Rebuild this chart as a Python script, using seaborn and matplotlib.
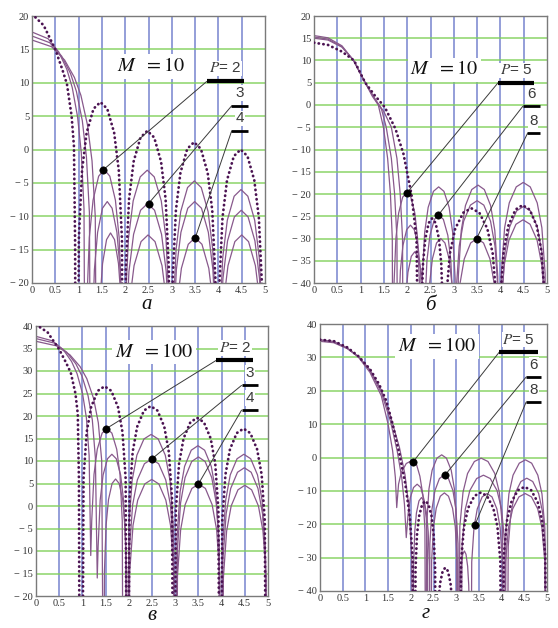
import matplotlib
matplotlib.use("Agg")
import matplotlib.pyplot as plt
import seaborn as sns

# ---------------- panel а : M = 10, P = 2, 3, 4 ----------------
a_x_dot = [0, 0.25, 0.5, 0.65, 0.75, 0.85, 0.9, 0.925, 0.945,
           0.975, 1.005, 1.074, 1.172, 1.32, 1.468, 1.615, 1.763, 1.862, 1.930, 1.96,
           1.985, 2.014, 2.083, 2.181, 2.328, 2.475, 2.622, 2.769, 2.867, 2.936, 2.965,
           2.99, 3.019, 3.088, 3.185, 3.331, 3.478, 3.624, 3.77, 3.868, 3.936, 3.965,
           3.99, 4.019, 4.088, 4.185, 4.331, 4.478, 4.624, 4.77, 4.868, 4.936, 4.965]
a_y_dot = [20.3, 18.6, 15.0, 12.0, 9.8, 5.0, 0.5, -14, -60,
           -60, -13.4, -3.1, 2.5, 6.1, 7.1, 6.1, 2.5, -3.1, -13.4, -60,
           -60, -17.7, -7.4, -1.8, 1.8, 2.8, 1.8, -1.8, -7.4, -17.7, -60,
           -60, -19.4, -9.1, -3.5, 0.1, 1.1, 0.1, -3.5, -9.1, -19.4, -60,
           -60, -20.5, -10.2, -4.6, -1.0, 0.0, -1.0, -4.6, -10.2, -20.5, -60]
a_x_p2 = [0, 0.345, 0.575, 0.748, 0.863, 0.978, 1.058, 1.116, 1.15,
          1.174, 1.23, 1.31, 1.43, 1.55, 1.67, 1.79, 1.87, 1.926, 1.95,
          1.97, 2.0, 2.07, 2.171, 2.322, 2.473, 2.623, 2.774, 2.875, 2.945, 2.975,
          2.995, 3.024, 3.093, 3.191, 3.338, 3.485, 3.632, 3.779, 3.877, 3.946, 3.975,
          3.995, 4.024, 4.093, 4.191, 4.338, 4.485, 4.632, 4.779, 4.877, 4.946, 4.975]
a_y_p2 = [17.6, 16.6, 14.6, 12.0, 9.3, 4.9, -0.5, -8.9, -60,
          -23.5, -13.2, -7.6, -4.0, -3.0, -4.0, -7.6, -13.2, -23.5, -60,
          -60, -23.6, -13.3, -7.7, -4.1, -3.1, -4.1, -7.7, -13.3, -23.6, -60,
          -60, -25.2, -14.9, -9.3, -5.7, -4.7, -5.7, -9.3, -14.9, -25.2, -60,
          -60, -26.5, -16.2, -10.6, -7.0, -6.0, -7.0, -10.6, -16.2, -26.5, -60]
a_x_p3 = [0, 0.381, 0.635, 0.826, 0.953, 1.080, 1.168, 1.232, 1.27,
          1.291, 1.339, 1.408, 1.512, 1.615, 1.719, 1.822, 1.891, 1.939, 1.96,
          1.98, 2.01, 2.08, 2.18, 2.33, 2.48, 2.63, 2.78, 2.88, 2.95, 2.98,
          3.0, 3.029, 3.098, 3.196, 3.343, 3.49, 3.637, 3.784, 3.882, 3.951, 3.98,
          4.0, 4.029, 4.098, 4.196, 4.343, 4.49, 4.637, 4.784, 4.882, 4.951, 4.98]
a_y_p3 = [17.0, 16.0, 14.0, 11.4, 8.7, 4.3, -1.1, -9.5, -60,
          -28.3, -18.0, -12.4, -8.8, -7.8, -8.8, -12.4, -18.0, -28.3, -60,
          -60, -28.6, -18.3, -12.7, -9.1, -8.1, -9.1, -12.7, -18.3, -28.6, -60,
          -60, -28.3, -18.0, -12.4, -8.8, -7.8, -8.8, -12.4, -18.0, -28.3, -60,
          -60, -29.6, -19.3, -13.7, -10.1, -9.1, -10.1, -13.7, -19.3, -29.6, -60]
a_x_p4 = [0, 0.42, 0.7, 0.91, 1.05, 1.19, 1.288, 1.358, 1.4,
          1.417, 1.457, 1.514, 1.6, 1.685, 1.771, 1.856, 1.913, 1.953, 1.97,
          1.99, 2.02, 2.09, 2.19, 2.34, 2.49, 2.64, 2.79, 2.89, 2.96, 2.99,
          3.01, 3.039, 3.108, 3.206, 3.353, 3.5, 3.647, 3.794, 3.892, 3.961, 3.99,
          4.01, 4.039, 4.108, 4.206, 4.353, 4.5, 4.647, 4.794, 4.892, 4.961, 4.99]
a_y_p4 = [16.4, 15.4, 13.4, 10.8, 8.1, 3.7, -1.7, -10.1, -60,
          -33.0, -22.7, -17.1, -13.5, -12.5, -13.5, -17.1, -22.7, -33.0, -60,
          -60, -33.3, -23.0, -17.4, -13.8, -12.8, -13.8, -17.4, -23.0, -33.3, -60,
          -60, -33.7, -23.4, -17.8, -14.2, -13.2, -14.2, -17.8, -23.4, -33.7, -60,
          -60, -33.3, -23.0, -17.4, -13.8, -12.8, -13.8, -17.4, -23.0, -33.3, -60]
a_mark_x = [1.52, 2.5, 3.5]
a_mark_y = [-3.1, -8.1, -13.3]
a_labels = ["$P$= 2", "3", "4"]

# ---------------- panel б : M = 10, P = 5, 6, 8 ----------------
b_x_dot = [0, 0.3, 0.6, 0.86, 1.1, 1.3, 1.52, 1.75, 1.92, 2.09, 2.2, 2.27,
           2.29, 2.305, 2.339, 2.388, 2.462, 2.535, 2.609, 2.682, 2.731, 2.765, 2.78,
           2.8, 2.835, 2.915, 3.03, 3.203, 3.375, 3.548, 3.72, 3.835, 3.916, 3.95,
           3.97, 4.0, 4.071, 4.172, 4.324, 4.475, 4.627, 4.778, 4.879, 4.95, 4.98]
b_y_dot = [14.0, 13.5, 12.0, 10.0, 5.0, 2.2, -0.5, -5.4, -11, -20, -30, -90,
           -90, -46, -35.7, -30.1, -26.5, -25.5, -26.5, -30.1, -35.7, -46, -90,
           -90, -43.7, -33.4, -27.8, -24.2, -23.2, -24.2, -27.8, -33.4, -43.7, -90,
           -90, -43, -32.7, -27.1, -23.5, -22.5, -23.5, -27.1, -32.7, -43, -90]
b_x_p5 = [0, 0.3, 0.6, 0.85, 1.05, 1.25, 1.38, 1.49, 1.58, 1.64, 1.68, 1.7,
          1.717, 1.758, 1.816, 1.903, 1.99, 2.077, 2.164, 2.222, 2.263, 2.28,
          2.3, 2.323, 2.375, 2.45, 2.563, 2.675, 2.788, 2.9, 2.975, 3.028, 3.05,
          3.07, 3.097, 3.16, 3.25, 3.385, 3.52, 3.655, 3.79, 3.88, 3.943, 3.97,
          3.99, 4.02, 4.09, 4.19, 4.34, 4.49, 4.64, 4.79, 4.89, 4.96, 4.99]
b_y_p5 = [15.6, 15.1, 13.3, 10.0, 6.0, 2.0, 0.0, -5.0, -12, -20, -30, -90,
          -40.2, -29.9, -24.3, -20.7, -19.7, -20.7, -24.3, -29.9, -40.2, -90,
          -90, -38.9, -28.6, -23.0, -19.4, -18.4, -19.4, -23.0, -28.6, -38.9, -90,
          -90, -38.5, -28.2, -22.6, -19.0, -18.0, -19.0, -22.6, -28.2, -38.5, -90,
          -90, -37.9, -27.6, -22.0, -18.4, -17.4, -18.4, -22.0, -27.6, -37.9, -90]
b_x_p6 = [0, 0.3, 0.6, 0.85, 1.07, 1.3, 1.45, 1.55, 1.66, 1.73, 1.78, 1.8,
          1.816, 1.854, 1.908, 1.989, 2.07, 2.151, 2.232, 2.286, 2.324, 2.34,
          2.36, 2.379, 2.424, 2.488, 2.584, 2.68, 2.776, 2.872, 2.936, 2.981, 3.0,
          3.02, 3.049, 3.116, 3.212, 3.356, 3.5, 3.644, 3.788, 3.884, 3.951, 3.98,
          4.0, 4.03, 4.099, 4.198, 4.347, 4.495, 4.644, 4.792, 4.891, 4.96, 4.99]
b_y_p6 = [15.3, 14.8, 13.1, 10.0, 5.5, 1.5, -1.0, -5.0, -12, -20, -30, -90,
          -47.5, -37.2, -31.6, -28.0, -27.0, -28.0, -31.6, -37.2, -47.5, -90,
          -90, -45.2, -34.9, -29.3, -25.7, -24.7, -25.7, -29.3, -34.9, -45.2, -90,
          -90, -42.0, -31.7, -26.1, -22.5, -21.5, -22.5, -26.1, -31.7, -42.0, -90,
          -90, -43.3, -33.0, -27.4, -23.8, -22.8, -23.8, -27.4, -33.0, -43.3, -90]
b_x_p8 = [0, 0.3, 0.6, 0.85, 1.1, 1.33, 1.5, 1.66, 1.78, 1.85, 1.9, 1.92,
          1.934, 1.968, 2.016, 2.088, 2.16, 2.232, 2.304, 2.352, 2.386, 2.4,
          2.42, 2.438, 2.48, 2.54, 2.63, 2.72, 2.81, 2.9, 2.96, 3.002, 3.02,
          3.04, 3.068, 3.132, 3.224, 3.362, 3.5, 3.638, 3.776, 3.868, 3.932, 3.96,
          3.98, 4.01, 4.081, 4.182, 4.334, 4.485, 4.637, 4.788, 4.889, 4.96, 4.99]
b_y_p8 = [15.0, 14.6, 13.0, 10.0, 5.0, 1.0, -1.5, -5.0, -12, -20, -30, -90,
          -53.5, -43.2, -37.6, -34.0, -33.0, -34.0, -37.6, -43.2, -53.5, -90,
          -90, -50.5, -40.2, -34.6, -31.0, -30.0, -31.0, -34.6, -40.2, -50.5, -90,
          -90, -50.5, -40.2, -34.6, -31.0, -30.0, -31.0, -34.6, -40.2, -50.5, -90,
          -90, -46.3, -36.0, -30.4, -26.8, -25.8, -26.8, -30.4, -36.0, -46.3, -90]
b_mark_x = [1.99, 2.67, 3.49]
b_mark_y = [-19.8, -24.7, -30.0]
b_labels = ["$P$= 5", "6", "8"]

# ---------------- panel в : M = 100, P = 2, 3, 4 ----------------
c_x_dot = [0, 0.25, 0.5, 0.65, 0.75, 0.85, 0.9, 0.925, 0.945,
           0.995, 1.024, 1.092, 1.188, 1.333, 1.478, 1.622, 1.767, 1.864, 1.932, 1.96,
           1.985, 2.014, 2.083, 2.18, 2.326, 2.473, 2.619, 2.765, 2.863, 2.931, 2.96,
           2.985, 3.014, 3.083, 3.18, 3.326, 3.473, 3.619, 3.765, 3.863, 3.931, 3.96,
           3.985, 4.014, 4.083, 4.18, 4.326, 4.473, 4.619, 4.765, 4.863, 4.931, 4.96]
c_y_dot = [40.3, 38.6, 34.8, 31.8, 29.6, 25.0, 20.5, 6.0, -60,
           -60, 6.1, 16.4, 22.0, 25.6, 26.6, 25.6, 22.0, 16.4, 6.1, -60,
           -60, 1.7, 12.0, 17.6, 21.2, 22.2, 21.2, 17.6, 12.0, 1.7, -60,
           -60, -0.9, 9.4, 15.0, 18.6, 19.6, 18.6, 15.0, 9.4, -0.9, -60,
           -60, -3.3, 7.0, 12.6, 16.2, 17.2, 16.2, 12.6, 7.0, -3.3, -60]
c_x_p2 = [0, 0.354, 0.59, 0.767, 0.885, 1.003, 1.086, 1.145, 1.18,
          1.201, 1.25, 1.32, 1.425, 1.53, 1.635, 1.74, 1.81, 1.859, 1.88,
          1.97, 2.001, 2.072, 2.174, 2.327, 2.48, 2.633, 2.786, 2.888, 2.959, 2.99,
          3.01, 3.039, 3.106, 3.202, 3.346, 3.49, 3.634, 3.778, 3.874, 3.941, 3.97,
          3.99, 4.019, 4.088, 4.186, 4.333, 4.48, 4.627, 4.774, 4.872, 4.941, 4.97]
c_y_p2 = [37.7, 36.7, 34.7, 32.1, 29.4, 25.0, 19.6, 11.2, -11,
          -3.3, 7.0, 12.6, 16.2, 17.2, 16.2, 12.6, 7.0, -3.3, -60,
          -60, -4.6, 5.7, 11.3, 14.9, 15.9, 14.9, 11.3, 5.7, -4.6, -60,
          -60, -7.1, 3.2, 8.8, 12.4, 13.4, 12.4, 8.8, 3.2, -7.1, -60,
          -60, -9.0, 1.3, 6.9, 10.5, 11.5, 10.5, 6.9, 1.3, -9.0, -60]
c_x_p3 = [0, 0.396, 0.66, 0.858, 0.99, 1.122, 1.214, 1.28, 1.32,
          1.339, 1.383, 1.446, 1.541, 1.635, 1.73, 1.824, 1.887, 1.931, 1.95,
          1.98, 2.011, 2.082, 2.184, 2.337, 2.49, 2.643, 2.796, 2.898, 2.969, 3.0,
          3.02, 3.049, 3.116, 3.212, 3.356, 3.5, 3.644, 3.788, 3.884, 3.951, 3.98,
          4.0, 4.029, 4.098, 4.196, 4.343, 4.49, 4.637, 4.784, 4.882, 4.951, 4.98]
c_y_p3 = [37.2, 36.2, 34.2, 31.6, 28.9, 24.5, 19.1, 10.7, -16,
          -9.0, 1.3, 6.9, 10.5, 11.5, 10.5, 6.9, 1.3, -9.0, -60,
          -60, -10.1, 0.2, 5.8, 9.4, 10.4, 9.4, 5.8, 0.2, -10.1, -60,
          -60, -9.6, 0.7, 6.3, 9.9, 10.9, 9.9, 6.3, 0.7, -9.6, -60,
          -60, -12.0, -1.7, 3.9, 7.5, 8.5, 7.5, 3.9, -1.7, -12.0, -60]
c_x_p4 = [0, 0.438, 0.73, 0.949, 1.095, 1.241, 1.343, 1.416, 1.46,
          1.475, 1.511, 1.562, 1.639, 1.715, 1.792, 1.868, 1.919, 1.955, 1.97,
          1.99, 2.02, 2.091, 2.192, 2.344, 2.495, 2.647, 2.798, 2.899, 2.97, 3.0,
          3.02, 3.049, 3.117, 3.214, 3.36, 3.505, 3.651, 3.796, 3.893, 3.961, 3.99,
          4.01, 4.039, 4.108, 4.206, 4.353, 4.5, 4.647, 4.794, 4.892, 4.961, 4.99]
c_y_p4 = [36.6, 35.6, 33.6, 31.0, 28.3, 23.9, 18.5, 10.1, -60,
          -14.5, -4.2, 1.4, 5.0, 6.0, 5.0, 1.4, -4.2, -14.5, -60,
          -60, -14.6, -4.3, 1.3, 4.9, 5.9, 4.9, 1.3, -4.3, -14.6, -60,
          -60, -15.6, -5.3, 0.3, 3.9, 4.9, 3.9, 0.3, -5.3, -15.6, -60,
          -60, -15.9, -5.6, 0.0, 3.6, 4.6, 3.6, 0.0, -5.6, -15.9, -60]
c_mark_x = [1.5, 2.49, 3.5]
c_mark_y = [17.1, 10.4, 4.9]
c_labels = ["$P$= 2", "3", "4"]

# ---------------- panel г : M = 100, P = 5, 6, 8 ----------------
d_x_dot = [0, 0.3, 0.6, 0.85, 1.1, 1.3, 1.46, 1.6, 1.75, 1.88, 1.98, 2.04, 2.07,
           2.09, 2.104, 2.136, 2.182, 2.251, 2.32, 2.389, 2.458, 2.504, 2.536, 2.55,
           2.57, 2.581, 2.608, 2.646, 2.703, 2.76, 2.817, 2.874, 2.912, 2.939, 2.95,
           3.08, 3.108, 3.172, 3.264, 3.402, 3.54, 3.678, 3.816, 3.908, 3.972, 4.0,
           4.02, 4.049, 4.117, 4.214, 4.36, 4.505, 4.651, 4.796, 4.893, 4.961, 4.99]
d_y_dot = [35.3, 34.9, 33.0, 30.3, 26.5, 22.0, 17.0, 10.0, 1.0, -8.0, -18.0, -30.0, -90,
           -90, -33.5, -23.2, -17.6, -14.0, -13.0, -14.0, -17.6, -23.2, -33.5, -90,
           -90, -53.5, -43.2, -37.6, -34.0, -33.0, -34.0, -37.6, -43.2, -53.5, -90,
           -90, -31.0, -20.7, -15.1, -11.5, -10.5, -11.5, -15.1, -20.7, -31.0, -90,
           -90, -29.3, -19.0, -13.4, -9.8, -8.8, -9.8, -13.4, -19.0, -29.3, -90]
d_x_p5 = [0, 0.3, 0.6, 0.85, 1.1, 1.35, 1.5, 1.6, 1.66, 1.69,
          1.73, 1.79, 1.9, 2.01, 2.12, 2.2, 2.266, 2.311, 2.33,
          2.351, 2.4, 2.47, 2.575, 2.68, 2.785, 2.89, 2.96, 3.009, 3.03,
          3.05, 3.08, 3.15, 3.25, 3.4, 3.55, 3.7, 3.85, 3.95, 4.02, 4.05,
          4.07, 4.097, 4.161, 4.252, 4.389, 4.525, 4.662, 4.798, 4.889, 4.953, 4.98]
d_y_p5 = [35.3, 34.8, 32.8, 30.0, 25.5, 18.5, 10.0, 2.0, -6.0, -15.0,
          -8.0, -4.5, -1.8, -1.0, -1.8, -5.6, -11.2, -21.5, -90,
          -19.7, -9.4, -3.8, -0.2, 0.8, -0.2, -3.8, -9.4, -19.7, -90,
          -90, -20.7, -10.4, -4.8, -1.2, -0.2, -1.2, -4.8, -10.4, -20.7, -90,
          -90, -21.2, -10.9, -5.3, -1.7, -0.7, -1.7, -5.3, -10.9, -21.2, -90]
d_x_p6 = [0, 0.3, 0.6, 0.85, 1.1, 1.35, 1.55, 1.7, 1.8, 1.86, 1.9,
          1.94, 1.99, 2.06, 2.14, 2.22, 2.29, 2.34, 2.366, 2.38,
          2.4, 2.42, 2.466, 2.532, 2.631, 2.73, 2.829, 2.928, 2.994, 3.04, 3.06,
          3.1, 3.13, 3.2, 3.3, 3.45, 3.6, 3.75, 3.9, 4.0, 4.07, 4.1,
          4.12, 4.146, 4.207, 4.294, 4.425, 4.555, 4.686, 4.816, 4.903, 4.964, 4.99]
d_y_p6 = [35.0, 34.6, 32.8, 30.2, 26.0, 19.5, 11.0, 2.0, -6.0, -14.0, -24.0,
          -17.0, -12.0, -9.0, -8.0, -9.0, -12.6, -18.2, -28.5, -90,
          -90, -25.8, -15.5, -9.9, -6.3, -5.3, -6.3, -9.9, -15.5, -25.8, -90,
          -90, -25.8, -15.5, -9.9, -6.3, -5.3, -6.3, -9.9, -15.5, -25.8, -90,
          -90, -26.7, -16.4, -10.8, -7.2, -6.2, -7.2, -10.8, -16.4, -26.7, -90]
d_x_p8 = [0, 0.3, 0.6, 0.85, 1.1, 1.35, 1.55, 1.75, 1.87, 1.96, 2.02, 2.05,
          2.061, 2.087, 2.124, 2.18, 2.235, 2.291, 2.346, 2.383, 2.409, 2.42,
          2.44, 2.458, 2.5, 2.56, 2.65, 2.74, 2.83, 2.92, 2.98, 3.022, 3.04,
          3.06, 3.067, 3.084, 3.108, 3.144, 3.18, 3.216, 3.252, 3.276, 3.293, 3.3,
          3.32, 3.342, 3.392, 3.464, 3.572, 3.68, 3.788, 3.896, 3.968, 4.018, 4.04,
          4.06, 4.088, 4.152, 4.244, 4.382, 4.52, 4.658, 4.796, 4.888, 4.952, 4.98]
d_y_p8 = [34.8, 34.4, 32.6, 30.2, 26.3, 20.2, 12.5, 3.0, -5.0, -15.0, -30.0, -90,
          -32.5, -22.2, -16.6, -13.0, -12.0, -13.0, -16.6, -22.2, -32.5, -90,
          -90, -31.1, -20.8, -15.2, -11.6, -10.6, -11.6, -15.2, -20.8, -31.1, -90,
          -90, -48.5, -38.2, -32.6, -29.0, -28.0, -29.0, -32.6, -38.2, -48.5, -90,
          -90, -31.3, -21.0, -15.4, -11.8, -10.8, -11.8, -15.4, -21.0, -31.3, -90,
          -90, -31.3, -21.0, -15.4, -11.8, -10.8, -11.8, -15.4, -21.0, -31.3, -90]
d_mark_x = [2.05, 2.75, 3.41]
d_mark_y = [-1.3, -5.3, -20.3]
d_labels = ["$P$= 5", "6", "8"]

x_ticks = [0, 0.5, 1, 1.5, 2, 2.5, 3, 3.5, 4, 4.5, 5]
x_ticklabels = ["0", "0.5", "1", "1.5", "2", "2.5", "3", "3.5", "4", "4.5", "5"]
panel_letters = ["а", "б", "в", "г"]
m_texts = ["$M\\ \\ = 10$", "$M\\ \\ = 10$", "$M\\ \\ = 100$", "$M\\ \\ = 100$"]

# ---------------- styling / layout ----------------
sns.set_style("white")
plt.rcParams['font.family'] = ['Liberation Serif', 'DejaVu Serif']
plt.rcParams['mathtext.fontset'] = 'stix'

SOLID = '#88598c'
DOT = '#4b1352'
BLUE = '#5f6fc6'
GREEN = '#7fd058'

W, H = 558, 628
fig = plt.figure(figsize=(W / 100, H / 100), dpi=100)

panels = [
    dict(rect=(32, 16, 265, 283), ylim=(-20, 20), ystep=5,
         dot=(a_x_dot, a_y_dot), solids=[(a_x_p2, a_y_p2), (a_x_p3, a_y_p3), (a_x_p4, a_y_p4)],
         mx=a_mark_x, my=a_mark_y, labels=a_labels,
         bars=[(3.75, 4.55, 10.2, 3.0), (4.28, 4.64, 6.5, 2.0), (4.28, 4.64, 2.7, 2.0)],
         lab_off=0.9, mpos=(2.55, 12.4), letter=(147, 305)),
    dict(rect=(314, 16, 547, 283), ylim=(-40, 20), ystep=5,
         dot=(b_x_dot, b_y_dot), solids=[(b_x_p5, b_y_p5), (b_x_p6, b_y_p6), (b_x_p8, b_y_p8)],
         mx=b_mark_x, my=b_mark_y, labels=b_labels,
         bars=[(3.95, 4.73, 5.0, 3.0), (4.48, 4.84, -0.3, 2.0), (4.58, 4.84, -6.4, 2.0)],
         lab_off=1.2, mpos=(2.8, 7.9), letter=(430, 306)),
    dict(rect=(36, 326, 268, 596), ylim=(-20, 40), ystep=5,
         dot=(c_x_dot, c_y_dot), solids=[(c_x_p2, c_y_p2), (c_x_p3, c_y_p3), (c_x_p4, c_y_p4)],
         mx=c_mark_x, my=c_mark_y, labels=c_labels,
         bars=[(3.89, 4.68, 32.4, 3.0), (4.43, 4.79, 26.8, 2.0), (4.43, 4.79, 21.3, 2.0)],
         lab_off=1.2, mpos=(2.55, 34.2), letter=(152, 616)),
    dict(rect=(320, 324, 547, 591), ylim=(-40, 40), ystep=10,
         dot=(d_x_dot, d_y_dot), solids=[(d_x_p5, d_y_p5), (d_x_p6, d_y_p6), (d_x_p8, d_y_p8)],
         mx=d_mark_x, my=d_mark_y, labels=d_labels,
         bars=[(3.95, 4.8, 31.6, 3.0), (4.54, 4.87, 24.1, 2.0), (4.54, 4.87, 16.6, 2.0)],
         lab_off=1.6, mpos=(2.57, 33.3), letter=(426, 614)),
]


def fmt(v):
    return "\u2212 %d" % abs(v) if v < 0 else "%d" % v


for i, p in enumerate(panels):
    l, t, r, b = p['rect']
    ax = fig.add_axes([l / W, 1 - b / H, (r - l) / W, (b - t) / H])
    y0, y1 = p['ylim']
    ax.set_xlim(0, 5)
    ax.set_ylim(y0, y1)

    # grid
    for gx in x_ticks[1:-1]:
        ax.axvline(gx, color=BLUE, lw=1.1, alpha=0.85, zorder=0)
    yt = list(range(y0, y1 + 1, p['ystep']))
    for gy in yt[1:-1]:
        ax.axhline(gy, color=GREEN, lw=1.1, alpha=0.9, zorder=0)

    # curves
    for sx, sy in p['solids']:
        sns.lineplot(x=sx, y=sy, ax=ax, color=SOLID, lw=0.9, sort=False,
                     estimator=None, zorder=2)
    dx, dy = p['dot']
    sns.lineplot(x=dx, y=dy, ax=ax, color=DOT, lw=2.0, sort=False, estimator=None,
                 linestyle=(0, (0.1, 1.6)), dash_capstyle='round', zorder=3)

    # leader lines, bars, labels
    for k in range(3):
        bx0, bx1, by, blw = p['bars'][k]
        ax.plot([p['mx'][k], bx0], [p['my'][k], by], color='#3a3a3a', lw=0.7, zorder=4)
        ax.plot([bx0, bx1], [by, by], color='black', lw=blw, solid_capstyle='butt', zorder=4)
        cx = (bx0 + bx1) / 2
        ax.text(cx, by + p['lab_off'], p['labels'][k], ha='center', va='bottom',
                fontsize=11, color='#3a3a3a', zorder=5,
                family=['Liberation Sans', 'DejaVu Sans'],
                bbox=dict(facecolor='white', edgecolor='none', pad=0.5))
    sns.scatterplot(x=p['mx'], y=p['my'], ax=ax, color='black', s=28,
                    edgecolor='black', zorder=6, legend=False)

    ax.text(p['mpos'][0], p['mpos'][1], m_texts[i], ha='center', va='center',
            fontsize=14.5, color='#111111', zorder=5,
            bbox=dict(facecolor='white', edgecolor='none', pad=2))

    ax.set_xticks(x_ticks)
    ax.set_xticklabels(x_ticklabels)
    ax.set_yticks(yt)
    ax.set_yticklabels([fmt(v) for v in yt])
    ax.tick_params(length=0, labelsize=7.5, pad=2, colors='#333333')
    ax.set_xlabel("")
    ax.set_ylabel("")
    for s in ax.spines.values():
        s.set_color('#7a7a7a')
        s.set_linewidth(1.0)
        s.set_visible(True)

    fig.text(p['letter'][0] / W, 1 - p['letter'][1] / H, panel_letters[i],
             ha='center', va='center', fontsize=15, style='italic', color='#111111')

fig.savefig("out.png", dpi=100)
